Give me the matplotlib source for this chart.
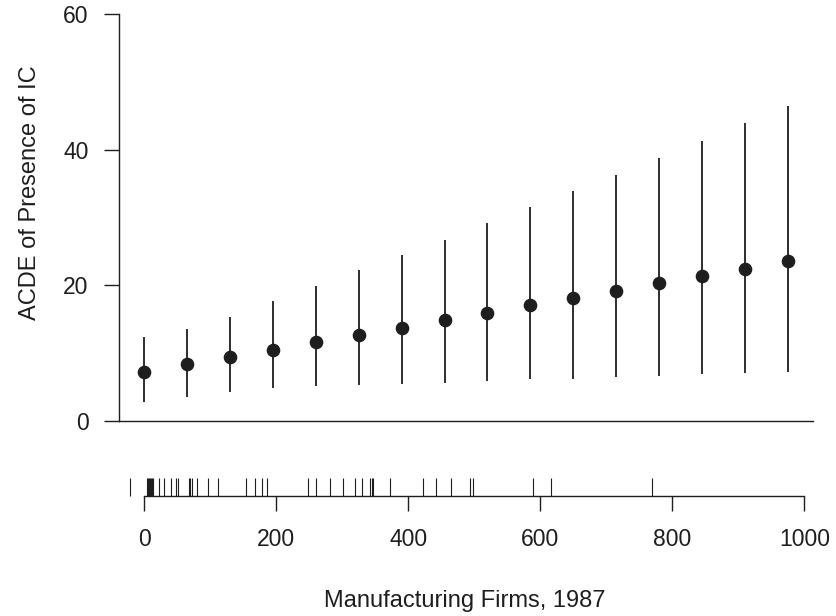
import numpy as np
import matplotlib
matplotlib.use("Agg")
import matplotlib.pyplot as plt

plt.rcParams['font.family'] = ['Liberation Sans', 'DejaVu Sans']

# manufacturing firms (evaluation points)
firms = [0, 65, 130, 195, 260, 325, 390, 455, 520, 585, 650, 715, 780, 845, 910, 975]
acde = [7.2, 8.3, 9.4, 10.5, 11.6, 12.7, 13.7, 14.85, 15.9, 17.0, 18.05, 19.2, 20.3, 21.35, 22.4, 23.5]
upper = [12.3, 13.6, 15.3, 17.7, 19.8, 22.3, 24.5, 26.65, 29.2, 31.5, 33.9, 36.3, 38.75, 41.3, 43.9, 46.4]
lower = [2.7, 3.5, 4.2, 4.8, 5.1, 5.3, 5.4, 5.6, 5.9, 6.1, 6.15, 6.45, 6.55, 6.85, 7.0, 7.2]

# observed values for the rug
rug = [-20.7, 4.6, 6.1, 7.6, 9.1, 10.7, 12.2, 13.7, 22.3, 30.3, 40.4, 49, 52, 67.7, 69.7,
       72.7, 79.8, 97, 112.6, 155, 168.7, 179.3, 185.4, 248, 261, 281.4, 301.6, 319.2,
       330.3, 342, 344.5, 347, 372.3, 421.8, 441.5, 464.7, 493.5, 498.5, 589.4, 615.7, 769.7]

yticks = [0, 20, 40, 60]
xticks = [0, 200, 400, 600, 800, 1000]

W, H = 837, 616
fig = plt.figure(figsize=(W / 100, H / 100), dpi=100)

ink = "#1e1e1e"
xl = (-38, 1013)

# main panel
ax = fig.add_axes([119 / W, (H - 420.7) / H, (813 - 119) / W, (420.7 - 14) / H])
ax.vlines(firms, lower, upper, color=ink, lw=1.3)
ax.plot(firms, acde, "o", color=ink, ms=8.8, zorder=3)
ax.set_xlim(xl)
ax.set_ylim(0, 60)
ax.set_yticks(yticks)
ax.set_xticks([])
for s in ["top", "right"]:
    ax.spines[s].set_visible(False)
for s in ["left", "bottom"]:
    ax.spines[s].set_color(ink)
    ax.spines[s].set_linewidth(1.0)
ax.tick_params(axis="y", direction="out", length=10.8, width=1.0, color=ink,
               pad=11, labelsize=16.5, labelcolor=ink)
ax.patch.set_visible(False)

# rug panel
ax2 = fig.add_axes([119 / W, (H - 496) / H, (813 - 119) / W, (496 - 477.5) / H])
ax2.vlines(rug, 0, 1, color=ink, lw=0.8, clip_on=False)
ax2.set_xlim(xl)
ax2.set_ylim(0, 1)
ax2.set_yticks([])
ax2.set_xticks(xticks)
for s in ["top", "right", "left"]:
    ax2.spines[s].set_visible(False)
ax2.spines["bottom"].set_bounds(0, 1000)
ax2.spines["bottom"].set_color(ink)
ax2.spines["bottom"].set_linewidth(1.0)
ax2.tick_params(axis="x", direction="out", length=10.8, width=1.0, color=ink,
                pad=12, labelsize=16.5, labelcolor=ink)
ax2.patch.set_visible(False)

fig.text(465 / W, 1 - 607 / H, "Manufacturing Firms, 1987", ha="center", va="baseline",
         fontsize=17, color=ink)
fig.text(30 / W, 1 - 193 / H, "ACDE of Presence of IC", ha="center", va="center",
         rotation=90, fontsize=17, color=ink)

fig.savefig("out.png", dpi=100, facecolor="white")
